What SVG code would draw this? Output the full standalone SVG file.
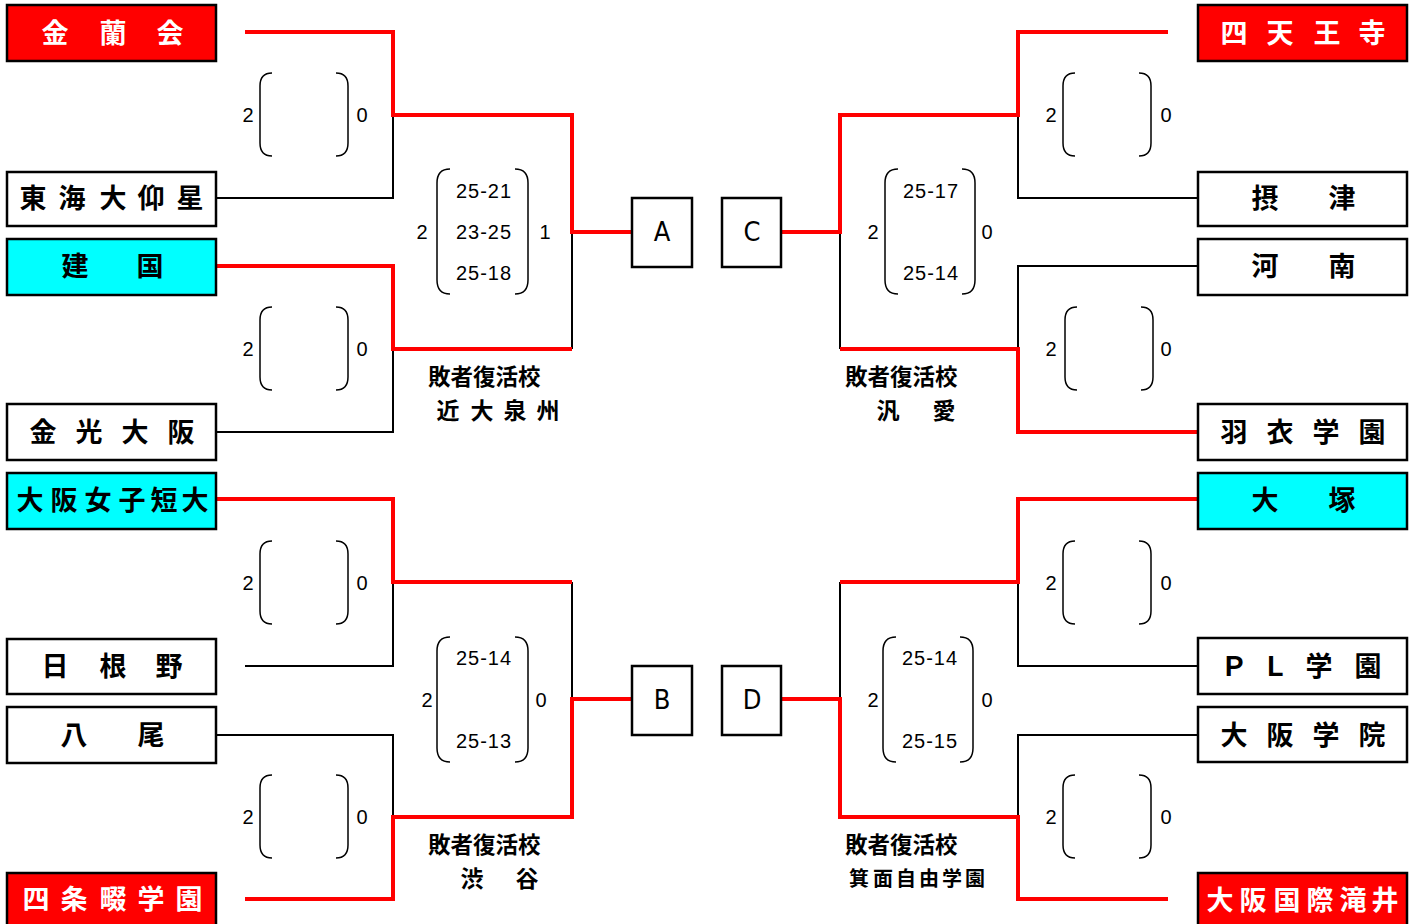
<svg xmlns="http://www.w3.org/2000/svg" width="1418" height="924" viewBox="0 0 1418 924">
<style>
.box{stroke:#000;stroke-width:2.5}
.red{fill:#ff0000}
.cyan{fill:#00ffff}
.white{fill:#fff}
.nm{font-family:"Noto Sans CJK JP","Liberation Sans",sans-serif;font-weight:bold;font-size:27px;text-anchor:middle;dominant-baseline:central}
.nmw{fill:#fff}
.nmb{fill:#000}
.bl{fill:none;stroke:#000;stroke-width:2}
.rl{fill:none;stroke:#ff0000;stroke-width:4}
.par{fill:none;stroke:#000;stroke-width:1.5}
.num{font-family:"Liberation Sans",Arial,sans-serif;font-size:20px;text-anchor:middle;dominant-baseline:central;fill:#000}
.sc{font-family:"Liberation Sans",Arial,sans-serif;font-size:20px;text-anchor:middle;dominant-baseline:central;fill:#000;letter-spacing:1px}
.lt{font-family:"DejaVu Sans Condensed","DejaVu Sans",sans-serif;font-stretch:condensed;font-size:27px;text-anchor:middle;dominant-baseline:central;fill:#000}
.rv{font-family:"Noto Sans CJK JP",sans-serif;font-weight:bold;font-size:22.5px;fill:#000;dominant-baseline:central}
.rvn{font-family:"Noto Sans CJK JP",sans-serif;font-weight:bold;font-size:23px;fill:#000;text-anchor:middle;dominant-baseline:central}
</style>
<rect width="1418" height="924" fill="#fff"/>
<defs>
<path id="pS" class="par" d="M272 0 Q260 0 260 13 L260 70 Q260 83 272 83 M336 0 Q348 0 348 13 L348 70 Q348 83 336 83"/>
</defs>

<g id="connectors">
<polyline class="bl" points="216,198 393,198 393,115"/>
<polyline class="bl" points="216,432 393,432 393,349"/>
<polyline class="bl" points="572,349 572,232"/>
<polyline class="bl" points="1198,198 1018,198 1018,115"/>
<polyline class="bl" points="1198,266 1018,266 1018,349"/>
<polyline class="bl" points="840,349 840,232"/>
<polyline class="bl" points="572,582 572,699"/>
<polyline class="bl" points="245,666 393,666 393,582"/>
<polyline class="bl" points="216,735 393,735 393,817"/>
<polyline class="bl" points="840,582 840,699"/>
<polyline class="bl" points="1198,666 1018,666 1018,582"/>
<polyline class="bl" points="1198,735 1018,735 1018,817"/>
<polyline class="rl" points="245,32 393,32 393,115 572,115 572,232 632,232"/>
<polyline class="rl" points="216,266 393,266 393,349 572,349"/>
<polyline class="rl" points="1168,32 1018,32 1018,115 840,115 840,232 781,232"/>
<polyline class="rl" points="1198,432 1018,432 1018,349 840,349"/>
<polyline class="rl" points="216,499 393,499 393,582 572,582"/>
<polyline class="rl" points="245,899 393,899 393,817 572,817 572,699 632,699"/>
<polyline class="rl" points="1198,499 1018,499 1018,582 840,582"/>
<polyline class="rl" points="1168,899 1018,899 1018,817 840,817 840,699 781,699"/>
</g>

<g id="scores">
<use href="#pS" transform="translate(0,73)"/>
<text class="num" x="248" y="115">2</text><text class="num" x="362" y="115">0</text>
<use href="#pS" transform="translate(0,307)"/>
<text class="num" x="248" y="349">2</text><text class="num" x="362" y="349">0</text>
<use href="#pS" transform="translate(0,541)"/>
<text class="num" x="248" y="583">2</text><text class="num" x="362" y="583">0</text>
<use href="#pS" transform="translate(0,775)"/>
<text class="num" x="248" y="817">2</text><text class="num" x="362" y="817">0</text>

<use href="#pS" transform="translate(803,73)"/>
<text class="num" x="1051" y="115">2</text><text class="num" x="1166" y="115">0</text>
<use href="#pS" transform="translate(805,307)"/>
<text class="num" x="1051" y="349">2</text><text class="num" x="1166" y="349">0</text>
<use href="#pS" transform="translate(803,541)"/>
<text class="num" x="1051" y="583">2</text><text class="num" x="1166" y="583">0</text>
<use href="#pS" transform="translate(803,775)"/>
<text class="num" x="1051" y="817">2</text><text class="num" x="1166" y="817">0</text>

<path class="par" d="M450 169 Q437 169 437 183 L437 280 Q437 294 450 294 M515 169 Q528 169 528 183 L528 280 Q528 294 515 294"/>
<text class="num" x="422" y="232">2</text><text class="num" x="545" y="232">1</text>
<text class="sc" x="484" y="191">25-21</text>
<text class="sc" x="484" y="232">23-25</text>
<text class="sc" x="484" y="273">25-18</text>

<path class="par" d="M898 169 Q885 169 885 183 L885 280 Q885 294 898 294 M962 169 Q975 169 975 183 L975 280 Q975 294 962 294"/>
<text class="num" x="873" y="232">2</text><text class="num" x="987" y="232">0</text>
<text class="sc" x="931" y="191">25-17</text>
<text class="sc" x="931" y="273">25-14</text>

<path class="par" d="M450 637 Q437 637 437 651 L437 748 Q437 762 450 762 M515 637 Q528 637 528 651 L528 748 Q528 762 515 762"/>
<text class="num" x="427" y="700">2</text><text class="num" x="541" y="700">0</text>
<text class="sc" x="484" y="658">25-14</text>
<text class="sc" x="484" y="741">25-13</text>

<path class="par" d="M896 637 Q883 637 883 651 L883 748 Q883 762 896 762 M960 637 Q973 637 973 651 L973 748 Q973 762 960 762"/>
<text class="num" x="873" y="700">2</text><text class="num" x="987" y="700">0</text>
<text class="sc" x="930" y="658">25-14</text>
<text class="sc" x="930" y="741">25-15</text>
</g>

<g id="box-A"><rect class="box white" x="632" y="198" width="60" height="69"/><text class="lt" x="662" y="231">A</text></g>
<g id="box-C"><rect class="box white" x="722" y="198" width="59" height="69"/><text class="lt" x="752" y="231">C</text></g>
<g id="box-B"><rect class="box white" x="632" y="666" width="60" height="69"/><text class="lt" x="662" y="699">B</text></g>
<g id="box-D"><rect class="box white" x="722" y="666" width="59" height="69"/><text class="lt" x="752" y="699">D</text></g>

<g id="kinrankai"><rect class="box red" x="7" y="5" width="209" height="56"/><text class="nm nmw" x="55 113 170" y="31">金蘭会</text></g>
<g id="tokaidai-gyosei"><rect class="box white" x="7" y="172" width="209" height="54"/><text class="nm nmb" x="33 72 113 151 190" y="196">東海大仰星</text></g>
<g id="kenkoku"><rect class="box cyan" x="7" y="239" width="209" height="56"/><text class="nm nmb" x="75 150" y="264">建国</text></g>
<g id="konko-osaka"><rect class="box white" x="7" y="404" width="209" height="56"/><text class="nm nmb" x="43 89 135 181" y="430">金光大阪</text></g>
<g id="osaka-joshi-tandai"><rect class="box cyan" x="7" y="473" width="209" height="56"/><text class="nm nmb" x="30 64 98 132 164 195" y="498">大阪女子短大</text></g>
<g id="hineno"><rect class="box white" x="7" y="639" width="209" height="55"/><text class="nm nmb" x="55 113 169" y="664">日根野</text></g>
<g id="yao"><rect class="box white" x="7" y="707" width="209" height="56"/><text class="nm nmb" x="74 151" y="733">八尾</text></g>
<g id="shijonawate-gakuen"><rect class="box red" x="7" y="873" width="209" height="56"/><text class="nm nmw" x="36 74 113 151 189" y="897">四条畷学園</text></g>

<g id="shitennoji"><rect class="box red" x="1198" y="5" width="209" height="56"/><text class="nm nmw" x="1234 1280 1327 1372" y="31">四天王寺</text></g>
<g id="settsu"><rect class="box white" x="1198" y="172" width="209" height="54"/><text class="nm nmb" x="1265 1342" y="196">摂津</text></g>
<g id="kanan"><rect class="box white" x="1198" y="239" width="209" height="56"/><text class="nm nmb" x="1265 1342" y="264">河南</text></g>
<g id="hagoromo-gakuen"><rect class="box white" x="1198" y="404" width="209" height="56"/><text class="nm nmb" x="1234 1280 1326 1372" y="430">羽衣学園</text></g>
<g id="otsuka"><rect class="box cyan" x="1198" y="473" width="209" height="56"/><text class="nm nmb" x="1265 1342" y="498">大塚</text></g>
<g id="pl-gakuen"><rect class="box white" x="1198" y="638" width="209" height="56"/><text class="nm nmb" x="1234 1275 1319 1368" y="664">ＰＬ学園</text></g>
<g id="osaka-gakuin"><rect class="box white" x="1198" y="707" width="209" height="55"/><text class="nm nmb" x="1234 1280 1326 1372" y="733">大阪学院</text></g>
<g id="osaka-kokusai-takii"><rect class="box red" x="1198" y="873" width="209" height="56"/><text class="nm nmw" x="1220 1253 1287 1320 1353 1385" y="898">大阪国際滝井</text></g>

<g id="revival-labels">
<text class="rv" x="428" y="375">敗者復活校</text>
<text class="rvn" x="448 482 515 548" y="409">近大泉州</text>
<text class="rv" x="845" y="375">敗者復活校</text>
<text class="rvn" x="888 944" y="409">汎愛</text>
<text class="rv" x="428" y="843">敗者復活校</text>
<text class="rvn" x="472 527" y="877">渋谷</text>
<text class="rv" x="845" y="843">敗者復活校</text>
<text class="rvn" style="font-size:20px" x="859 883 906 929 952 975" y="877">箕面自由学園</text>
</g>
</svg>
